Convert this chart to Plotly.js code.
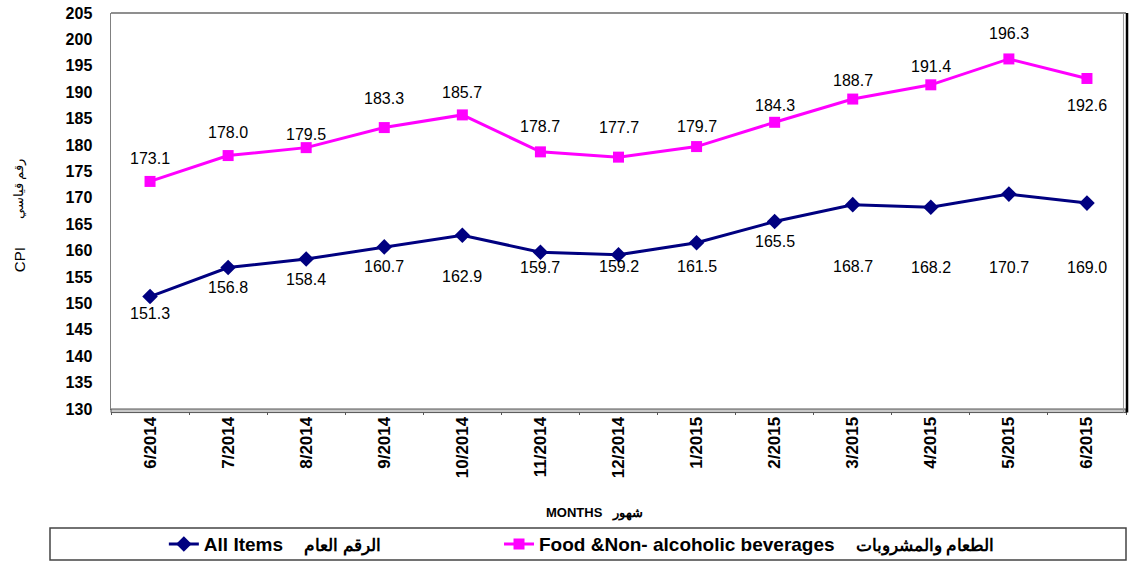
<!DOCTYPE html>
<html>
<head>
<meta charset="utf-8">
<script src="https://cdn.plot.ly/plotly-3.0.1.min.js"></script>
<style>html,body{margin:0;padding:0;background:#fff;}#chart{width:1130px;height:561px;}</style>
</head>
<body>
<div id="chart"></div>
<script>
// ---- data ----
var months = ["6/2014","7/2014","8/2014","9/2014","10/2014","11/2014","12/2014","1/2015","2/2015","3/2015","4/2015","5/2015","6/2015"];
var allItems = [151.3,156.8,158.4,160.7,162.9,159.7,159.2,161.5,165.5,168.7,168.2,170.7,169.0];
var foodBev = [173.1,178.0,179.5,183.3,185.7,178.7,177.7,179.7,184.3,188.7,191.4,196.3,192.6];
var yTicks = [130,135,140,145,150,155,160,165,170,175,180,185,190,195,200,205];
var allEn = "All Items", allAr = "الرقم العام";
var foodEn = "Food &Non- alcoholic beverages", foodAr = "الطعام والمشروبات";

// ---- label offsets (px, style only) ----
var allLabelDy = [17,20,20,20,41,15,12,24,20,62,60,73,64];
var foodLabelDy = [-23,-23,-13,-29,-22,-25,-30,-20,-17,-19,-18,-25,27];

var FONT = 'Arial, Liberation Sans, sans-serif';
function legName(en, ar) {
  return '<b>' + en + '</b>    <span style="font-size:17px"><b>' + ar + '</b></span>';
}

var traces = [
  {x: months, y: allItems, name: legName(allEn, allAr), type: 'scatter', mode: 'lines+markers', legend: 'legend',
   line: {color: '#000080', width: 3}, marker: {symbol: 'diamond', size: 12, color: '#000080'}},
  {x: months, y: foodBev, name: legName(foodEn, foodAr), type: 'scatter', mode: 'lines+markers', legend: 'legend2',
   line: {color: '#FF00FF', width: 3}, marker: {symbol: 'square', size: 11, color: '#FF00FF'}}
];

var ann = [];
function addLabels(vals, dys) {
  for (var i = 0; i < vals.length; i++) {
    ann.push({x: months[i], y: vals[i], xref: 'x', yref: 'y', text: vals[i].toFixed(1),
      showarrow: false, yshift: -dys[i], font: {family: FONT, size: 16, color: '#000'}});
  }
}
addLabels(allItems, allLabelDy);
addLabels(foodBev, foodLabelDy);

ann.push({xref: 'paper', yref: 'paper', x: -0.0906, y: 0.376, xanchor: 'center', yanchor: 'middle', text: 'CPI', textangle: -90, showarrow: false,
  font: {family: FONT, size: 15, color: '#000'}});
ann.push({xref: 'paper', yref: 'paper', x: -0.0906, y: 0.555, xanchor: 'center', yanchor: 'middle', text: 'رقم قياسي', textangle: -90, showarrow: false,
  font: {family: FONT, size: 13, color: '#000'}});
ann.push({xref: 'paper', yref: 'paper', x: 0.476, y: -0.2626, xanchor: 'center', yanchor: 'middle', text: '<b>MONTHS</b>   <b>شهور</b>', showarrow: false,
  font: {family: FONT, size: 13, color: '#000'}});

var shapes = [
  {type: 'rect', xref: 'paper', yref: 'paper', x0: 0, x1: 1, y0: -0.009, y1: 0, fillcolor: '#c8c8c8', line: {color: '#555', width: 1}, layer: 'above'},
  {type: 'line', xref: 'paper', yref: 'paper', x0: 0, x1: 1, y0: 1, y1: 1, line: {color: '#6a6a6a', width: 1.5}},
  {type: 'line', xref: 'paper', yref: 'paper', x0: 0.9975, x1: 0.9975, y0: -0.009, y1: 1, line: {color: '#999', width: 1}},
  {type: 'line', xref: 'paper', yref: 'paper', x0: 1.001, x1: 1.001, y0: -0.009, y1: 1, line: {color: '#000', width: 2.5}},
  {type: 'rect', xref: 'paper', yref: 'paper', x0: -0.0601, x1: 1.0, y0: -0.3005, y1: -0.3813, fillcolor: 'rgba(0,0,0,0)', line: {color: '#444', width: 1.5}}
];

var legBase = {orientation: 'h', xref: 'container', yref: 'container', y: 0.030, xanchor: 'left', yanchor: 'middle',
  font: {family: FONT, size: 19, color: '#000'}, bgcolor: 'rgba(0,0,0,0)'};

var layout = {
  width: 1130, height: 561,
  margin: {l: 111, r: 4, t: 13, b: 152},
  paper_bgcolor: '#fff', plot_bgcolor: '#fff',
  showlegend: true,
  legend: Object.assign({}, legBase, {x: 0.145}),
  legend2: Object.assign({}, legBase, {x: 0.4416}),
  xaxis: {type: 'category', range: [-0.5, 12.5], showgrid: false, zeroline: false, showline: true, linecolor: '#808080', linewidth: 1,
    ticks: 'outside', tickson: 'boundaries', ticklen: 5, tickcolor: '#555', tickangle: -90,
    tickfont: {family: FONT, size: 17, color: '#000', weight: 'bold'}},
  yaxis: {range: [130, 205], tickvals: yTicks, ticktext: yTicks.map(String), showgrid: false, zeroline: false,
    showline: true, linecolor: '#808080', linewidth: 1.5, ticks: 'outside', ticklen: 14, tickcolor: 'rgba(0,0,0,0)',
    tickfont: {family: FONT, size: 16, color: '#000', weight: 'bold'}},
  annotations: ann,
  shapes: shapes
};

Plotly.newPlot('chart', traces, layout, {displayModeBar: false, staticPlot: true});
</script>
</body>
</html>
